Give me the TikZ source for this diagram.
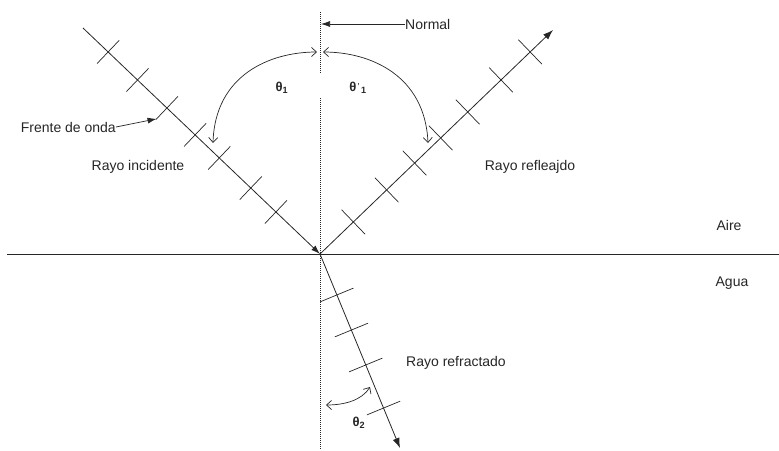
\documentclass[tikz,border=0pt]{standalone}
\usepackage{fontspec}
\setmainfont{Liberation Sans}
\usetikzlibrary{arrows.meta,calc}
\begin{document}
\begin{tikzpicture}[x=1pt,y=-1pt,
  ray/.style={line width=0.8pt,draw=black!85},
  tickmark/.style={line width=0.7pt,draw=black!85},
  normalline/.style={line width=1pt,draw=black!85,dash pattern=on 1pt off 1pt},
  anglearc/.style={line width=0.7pt,draw=black!85,{Straight Barb[length=5pt,width=9pt]}-{Straight Barb[length=5pt,width=9pt]}},
  lbl/.style={font=\fontsize{14}{16}\selectfont,text=black!85,inner sep=0pt},
  greek/.style={font=\fontsize{13}{15}\selectfont\bfseries,text=black!85,inner sep=0pt},
  pointer/.style={line width=0.7pt,draw=black!85,-{Latex[length=9pt,width=6pt]}}
]
\useasboundingbox (0,0) rectangle (779,450);
% main points
\coordinate (A) at (83,28);
\coordinate (O) at (320,254);
\coordinate (R) at (553,30);
\coordinate (B) at (400,448);
\coordinate (HL) at (7,254);
\coordinate (HR) at (779,254);
\coordinate (N1) at (320,12);
\coordinate (N2) at (320,73);
\coordinate (N3) at (320,98);
\coordinate (N4) at (320,450);
% surface and normal
\draw[ray] (HL) -- (HR);
\draw[normalline] (N1) -- (N2);
\draw[normalline] (N3) -- (N4);
% rays
\draw[ray,-{Latex[length=9pt,width=6pt]}] (A) -- (O);
\draw[ray,-{Latex[length=10pt,width=7pt]}] (O) -- (R);
\draw[ray,-{Latex[length=10pt,width=7pt]}] (O) -- (B);
% wave fronts
\foreach \t [count=\i] in {0.106,0.230,0.354,0.473,0.575,0.708,0.814}{
  \coordinate (ti\i) at ($(A)!\t!(O)$);
  \draw[tickmark] ($(ti\i)!16pt!90:(O)$) -- ($(ti\i)!16pt!-90:(O)$);
}
\foreach \t [count=\i] in {0.143,0.286,0.406,0.518,0.634,0.777,0.902}{
  \coordinate (tr\i) at ($(O)!\t!(R)$);
  \draw[tickmark] ($(tr\i)!17pt!90:(R)$) -- ($(tr\i)!17pt!-90:(R)$);
}
\foreach \t [count=\i] in {0.211,0.392,0.572,0.794}{
  \coordinate (tf\i) at ($(O)!\t!(B)$);
  \draw[tickmark] ($(tf\i)!18pt!90:(B)$) -- ($(tf\i)!18pt!-90:(B)$);
}
\coordinate (fw) at ($(ti3)!15pt!-90:(O)$);
% angle arcs
\coordinate (a1s) at (213,143);
\coordinate (a1e) at (317,52);
\coordinate (a2s) at (323,52);
\coordinate (a2e) at (428,143);
\coordinate (a3s) at (326,405);
\coordinate (a3e) at (370,387);
\draw[anglearc] (a1s) .. controls (215,75) and (270,52) .. (a1e);
\draw[anglearc] (a2s) .. controls (370,52) and (425,75) .. (a2e);
\draw[anglearc] (a3s) .. controls (345,405) and (362,400) .. (a3e);
% labels
\node[lbl,anchor=west] (nlab) at (405,24) {Normal};
\coordinate (nt) at (321,24);
\draw[pointer] (nlab.west) -- (nt);
\node[lbl,anchor=east] (flab) at (116,127) {Frente de onda};
\draw[pointer] (flab.east) -- (fw);
\node[lbl] (ri) at (138,167) {Rayo incidente};
\node[lbl] (rr) at (530,167) {Rayo refleajdo};
\node[lbl] (rf) at (456,363) {Rayo refractado};
\node[lbl] (aire) at (729,225) {Aire};
\node[lbl] (agua) at (732,283) {Agua};
\node[greek] (th1) at (282,88) {θ\textsubscript{1}};
\node[greek] (th1p) at (358,88) {θ\raisebox{0.45ex}{\scriptsize\,'}\textsubscript{\,1}};
\node[greek] (th2) at (359,423) {θ\textsubscript{2}};
\end{tikzpicture}
\end{document}
